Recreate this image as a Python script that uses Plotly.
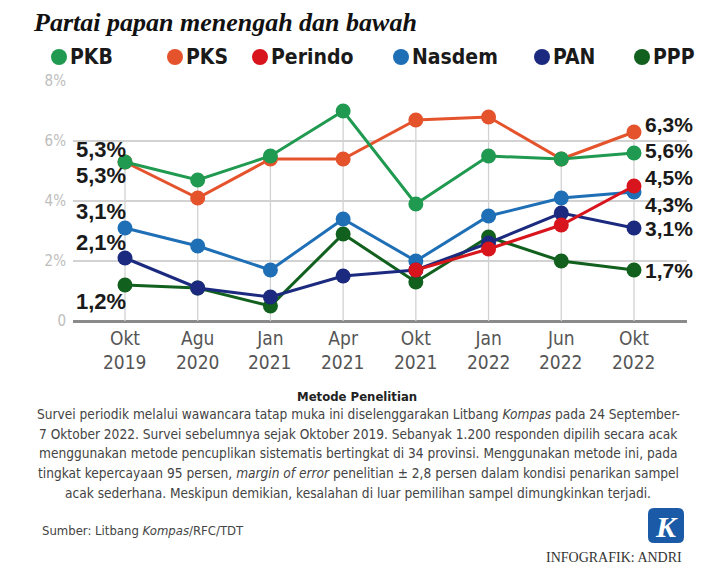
import plotly.graph_objects as go

periods_month = ["Okt", "Agu", "Jan", "Apr", "Okt", "Jan", "Jun", "Okt"]
periods_year = ["2019", "2020", "2021", "2021", "2021", "2022", "2022", "2022"]

pkb = [5.3, 4.7, 5.5, 7.0, 3.9, 5.5, 5.4, 5.6]
pks = [5.3, 4.1, 5.4, 5.4, 6.7, 6.8, 5.4, 6.3]
perindo = [None, None, None, None, 1.7, 2.4, 3.2, 4.5]
nasdem = [3.1, 2.5, 1.7, 3.4, 2.0, 3.5, 4.1, 4.3]
pan = [2.1, 1.1, 0.8, 1.5, 1.7, 2.6, 3.6, 3.1]
ppp = [1.2, 1.1, 0.5, 2.9, 1.3, 2.8, 2.0, 1.7]

y_ticks = [0, 2, 4, 6, 8]
y_tick_text = ["0", "2%", "4%", "6%", "8%"]

series_names = ["PKB", "PKS", "Perindo", "Nasdem", "PAN", "PPP"]
colors = {
    "PKB": "#1f9a50",
    "PKS": "#e4532c",
    "Perindo": "#d8141c",
    "Nasdem": "#1f6fb6",
    "PAN": "#1b2a7e",
    "PPP": "#11601e",
}
values = {"PKB": pkb, "PKS": pks, "Perindo": perindo, "Nasdem": nasdem, "PAN": pan, "PPP": ppp}

first_shift = {"PKB": 13, "PKS": -13, "Nasdem": 17, "PAN": 16, "PPP": -16}
last_shift = {"PKS": 8, "PKB": 3, "Perindo": 9, "Nasdem": -12, "PAN": 0, "PPP": 0}

body_lines = [
    "Survei periodik melalui wawancara tatap muka ini diselenggarakan Litbang <i>Kompas</i> pada 24 September-",
    "7 Oktober 2022. Survei sebelumnya sejak Oktober 2019. Sebanyak 1.200 responden dipilih secara acak",
    "menggunakan metode pencuplikan sistematis bertingkat di 34 provinsi. Menggunakan metode ini, pada",
    "tingkat kepercayaan 95 persen, <i>margin of error</i> penelitian ± 2,8 persen dalam kondisi penarikan sampel",
    "acak sederhana. Meskipun demikian, kesalahan di luar pemilihan sampel dimungkinkan terjadi.",
]

NARROW = "DejaVu Sans Condensed, Liberation Sans Narrow, Roboto, sans-serif"

def fmt(v):
    return f"{v:.1f}".replace(".", ",") + "%"

xs = list(range(len(periods_month)))
fig = go.Figure()

drop_x, drop_y = [], []
for i in xs:
    top = max(v[i] for v in values.values() if v[i] is not None)
    drop_x += [i, i, None]
    drop_y += [0, top, None]
fig.add_trace(go.Scatter(x=drop_x, y=drop_y, mode="lines",
                         line=dict(color="#d2d2d2", width=1.3),
                         hoverinfo="skip", showlegend=False))

draw_order = ["PKS", "PKB", "PPP", "Nasdem", "PAN", "Perindo"]
for name in draw_order:
    fig.add_trace(go.Scatter(
        x=xs, y=values[name], name=name, mode="lines+markers",
        line=dict(color=colors[name], width=3),
        marker=dict(color=colors[name], size=15),
        showlegend=False, cliponaxis=False,
    ))

annotations = []
label_font = dict(family="Liberation Sans, Arial, sans-serif", size=21, color="#1a1a1a")
for name, sh in first_shift.items():
    annotations.append(dict(x=0, y=values[name][0], xref="x", yref="y", text="<b>" + fmt(values[name][0]) + "</b>",
                            showarrow=False, xanchor="right", yanchor="middle", xshift=3, yshift=sh,
                            font=dict(label_font, size=22)))
for name, sh in last_shift.items():
    annotations.append(dict(x=xs[-1], y=values[name][-1], xref="x", yref="y", text="<b>" + fmt(values[name][-1]) + "</b>",
                            showarrow=False, xanchor="left", yanchor="middle", xshift=9, yshift=sh,
                            font=label_font))

for i, yr in enumerate(periods_year):
    annotations.append(dict(x=i, y=0, xref="x", yref="paper", text=yr, showarrow=False,
                            xanchor="center", yanchor="middle", yshift=-41,
                            font=dict(family=NARROW, size=19, color="#555555")))

# ---- positions below are given in window pixels ----
annotations.append(dict(x=32, y=22, xref="paper", yref="paper", text="<b><i>Partai papan menengah dan bawah</i></b>",
                        showarrow=False, xanchor="left", yanchor="middle", borderpad=0,
                        font=dict(family="Liberation Serif, serif", size=26, color="#111111")))

legend_x = [59, 175, 260, 401, 542, 642]
shapes = []
for lx, name in zip(legend_x, series_names):
    shapes.append(dict(type="circle", xref="paper", yref="paper", x0=lx - 8, x1=lx + 8, y0=57 - 8, y1=57 + 8,
                       fillcolor=colors[name], line=dict(width=0)))
    annotations.append(dict(x=lx + 9, y=57, xref="paper", yref="paper", text="<b>" + name + "</b>",
                            showarrow=False, xanchor="left", yanchor="middle",
                            font=dict(family=NARROW, size=21, color="#1a1a1a")))

annotations.append(dict(x=357, y=396, xref="paper", yref="paper", text="<b>Metode Penelitian</b>",
                        showarrow=False, xanchor="center", yanchor="middle",
                        font=dict(family=NARROW, size=13, color="#222222")))
for k, line in enumerate(body_lines):
    annotations.append(dict(x=358, y=414 + 19.7 * k, xref="paper", yref="paper", text=line,
                            showarrow=False, xanchor="center", yanchor="middle",
                            font=dict(family=NARROW, size=13.6, color="#444444")))
annotations.append(dict(x=40, y=530, xref="paper", yref="paper", text="Sumber: Litbang <i>Kompas</i>/RFC/TDT",
                        showarrow=False, xanchor="left", yanchor="middle",
                        font=dict(family=NARROW, size=13, color="#444444")))
# logo: rounded square
lx0, lx1, ly0, ly1, r = 648, 684, 508, 543, 6
shapes.append(dict(type="path", xref="paper", yref="paper",
                   path=("M{a},{b} L{c},{b} Q{d},{b} {d},{e} L{d},{f} Q{d},{g} {c},{g} L{a},{g} Q{h},{g} {h},{f} "
                         "L{h},{e} Q{h},{b} {a},{b} Z"),
                   _corners=(lx0, lx1, ly0, ly1, r),
                   fillcolor="#1a5aa6", line=dict(width=0)))
annotations.append(dict(x=666, y=526, xref="paper", yref="paper", text="<b><i>K</i></b>",
                        showarrow=False, xanchor="center", yanchor="middle",
                        font=dict(family="Liberation Serif, serif", size=30, color="white")))
annotations.append(dict(x=684, y=557, xref="paper", yref="paper", text="INFOGRAFIK: ANDRI",
                        showarrow=False, xanchor="right", yanchor="middle",
                        font=dict(family="Liberation Serif, serif", size=14, color="#333333")))

# page body has an 8px margin: the figure starts at (8, 8) in the window
OFF = 8
W, H = 714 - OFF, 586 - OFF
PLOT_L, PLOT_R, PLOT_T, PLOT_B = 73, 687, 81, 321   # window pixels of the plot area
ML, MR, MT, MB = PLOT_L - OFF, W - (PLOT_R - OFF), PLOT_T - OFF, H - (PLOT_B - OFF)
pw, ph = PLOT_R - PLOT_L, PLOT_B - PLOT_T

def px_x(x):
    return (x - PLOT_L) / pw
def px_y(y):
    return 1 - (y - PLOT_T) / ph
for a in annotations:
    if a["xref"] == "paper":
        a["x"] = px_x(a["x"])
    if a["yref"] == "paper" and a.get("yshift") is None:
        a["y"] = px_y(a["y"])
for s in shapes:
    if s["type"] == "path":
        x0, x1, y0, y1, rr = s.pop("_corners")
        X = lambda v: f"{px_x(v):.5f}"
        Y = lambda v: f"{px_y(v):.5f}"
        s["path"] = s["path"].format(a=X(x0 + rr), b=Y(y0), c=X(x1 - rr), d=X(x1), e=Y(y0 + rr),
                                     f=Y(y1 - rr), g=Y(y1), h=X(x0))
    else:
        s["x0"], s["x1"] = px_x(s["x0"]), px_x(s["x1"])
        s["y0"], s["y1"] = px_y(s["y1"]), px_y(s["y0"])

fig.update_layout(
    width=W, height=H,
    margin=dict(l=ML, r=MR, t=MT, b=MB, pad=0),
    paper_bgcolor="white", plot_bgcolor="white",
    showlegend=False,
    annotations=annotations, shapes=shapes,
    xaxis=dict(range=[-0.715, 7.729], tickvals=xs, ticktext=periods_month, showgrid=False,
               zeroline=False, showline=False, ticks="", ticklabelstandoff=4,
               tickfont=dict(family=NARROW, size=19, color="#555555")),
    yaxis=dict(range=[0, 8], tickvals=y_ticks, ticktext=y_tick_text, showgrid=True,
               gridcolor="#d2d2d2", gridwidth=1.5, zeroline=True, zerolinecolor="#8a8a8a", zerolinewidth=2.5,
               showline=False, ticks="", ticklabelstandoff=6,
               tickfont=dict(family=NARROW, size=15, color="#bdbdbd")),
)

fig.write_html("out.html")
